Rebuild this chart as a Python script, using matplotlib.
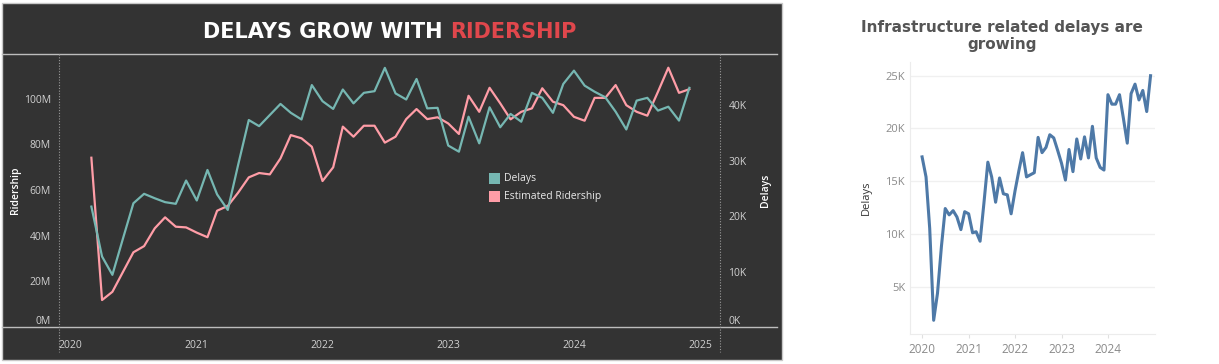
import matplotlib
matplotlib.use("Agg")
import matplotlib.pyplot as plt
import matplotlib.ticker as mticker
import matplotlib.dates as mdates
from matplotlib.lines import Line2D
from matplotlib.patches import Rectangle
import pandas as pd

# monthly totals, Mar 2020 - Dec 2024 (left panel)
delays_k = [21.7, 12.7, 9.4, 16.0, 22.3, 24.0, 23.2, 22.5, 22.2, 26.4,
            22.8, 28.3, 23.9, 21.1, 29.2, 37.3, 36.2, 38.2, 40.2, 38.6,
            37.4, 43.6, 40.7, 39.3, 42.8, 40.3, 42.2, 42.5, 46.7, 42.1,
            41.0, 44.7, 39.4, 39.5, 32.7, 31.6, 37.9, 33.1, 39.6, 36.0,
            38.4, 37.0, 42.2, 41.3, 38.6, 43.8, 46.2, 43.5, 42.4, 41.4,
            38.8, 35.6, 40.8, 41.3, 39.0, 39.7, 37.2, 43.1]
ridership_m = [74.1, 11.8, 15.4, 24.2, 32.7, 35.4, 43.2, 48.0, 43.9, 43.6,
               41.3, 39.3, 50.9, 53.0, 58.8, 65.5, 67.4, 66.8, 73.8, 84.0,
               82.6, 78.9, 63.9, 69.9, 87.7, 83.3, 88.1, 88.1, 80.7, 83.3,
               91.0, 95.4, 91.0, 91.8, 89.1, 84.5, 101.2, 94.2, 104.7, 97.9,
               90.9, 94.2, 95.7, 104.5, 98.6, 97.1, 92.0, 90.3, 100.3, 100.3,
               105.9, 97.1, 94.2, 92.5, 103.0, 113.5, 102.5, 104.1]

# infrastructure related delays, Jan 2020 - Dec 2024 (right panel)
infra_k = [17.3, 15.4, 10.5, 1.8, 4.35, 8.8, 12.4, 11.8, 12.2, 11.6,
           10.4, 12.1, 11.9, 10.1, 10.2, 9.3, 12.9, 16.8, 15.4, 13.0,
           15.3, 13.8, 13.7, 11.9, 14.1, 16.05, 17.7, 15.4, 15.6, 15.8,
           19.15, 17.7, 18.2, 19.4, 19.1, 17.95, 16.7, 15.1, 18.0, 15.9,
           19.0, 17.1, 19.2, 17.2, 20.2, 17.2, 16.3, 16.05, 23.2, 22.3,
           22.3, 23.2, 21.0, 18.6, 23.3, 24.2, 22.7, 23.6, 21.6, 25.0]

months_left = pd.date_range("2020-03-01", periods=len(delays_k), freq="MS")
months_right = pd.date_range("2020-01-01", periods=len(infra_k), freq="MS")
year_ticks = pd.to_datetime(["2020-01-01", "2021-01-01", "2022-01-01",
                             "2023-01-01", "2024-01-01", "2025-01-01"])

TEAL = "#76b7b2"
PINK = "#ff9da7"
BLUE = "#4e79a7"
DARK = "#333333"
LIGHT = "#d0d0d0"
W, H = 1219, 364

fig = plt.figure(figsize=(W / 100, H / 100), dpi=100)
fig.patch.set_facecolor("white")

# dark dashboard panel, kept behind the axes
fig.patches.append(Rectangle((2 / W, 1 - 360 / H), 780 / W, 357 / H,
                             transform=fig.transFigure, facecolor=DARK,
                             edgecolor="#c8c8c8", lw=1, zorder=-5))
for yy in (54, 327):
    fig.lines.append(Line2D([2 / W, 777 / W], [1 - yy / H, 1 - yy / H],
                            transform=fig.transFigure, color="#bdbdbd", lw=1,
                            zorder=-4))
for xx in (59, 720):
    fig.lines.append(Line2D([xx / W, xx / W], [1 - 54 / H, 1 - 352 / H],
                            transform=fig.transFigure, color="#9a9a9a",
                            lw=0.8, ls=(0, (1, 1.5)), zorder=-4))

ax = fig.add_axes([59 / W, 1 - 327 / H, 661 / W, 273 / H])
ax.set_facecolor("none")
ax.plot(months_left, ridership_m, color=PINK, lw=1.6)
ax.set_ylim(0, 119.5)
ax.set_xlim(pd.Timestamp("2019-11-28"), pd.Timestamp("2025-02-28"))
ax.set_yticks([0, 20, 40, 60, 80, 100])
ax.yaxis.set_major_formatter(mticker.FuncFormatter(lambda v, p: f"{v:.0f}M"))
ax.set_xticks(year_ticks)
ax.xaxis.set_major_formatter(mdates.DateFormatter("%Y"))
ax.tick_params(length=0, colors=LIGHT, labelsize=7.5, pad=6)
ax.tick_params(axis="x", pad=9)
for lab in ax.get_xticklabels() + ax.get_yticklabels():
    lab.set_fontfamily("Open Sans")
for s in ax.spines.values():
    s.set_visible(False)

ax2 = ax.twinx()
ax2.plot(months_left, delays_k, color=TEAL, lw=1.6)
ax2.set_ylim(0, 49.2)
ax2.set_yticks([0, 10, 20, 30, 40])
ax2.yaxis.set_major_formatter(mticker.FuncFormatter(lambda v, p: f"{v:.0f}K"))
ax2.tick_params(length=0, colors=LIGHT, labelsize=7.5, pad=6)
for lab in ax2.get_yticklabels():
    lab.set_fontfamily("Open Sans")
for s in ax2.spines.values():
    s.set_visible(False)
ax.get_yticklabels()[0].set_va("bottom")
ax2.get_yticklabels()[0].set_va("bottom")

# axis titles placed like the dashboard's
fig.text(15 / W, 1 - 190 / H, "Ridership", color="white", fontsize=7.5,
         fontfamily="Open Sans", fontweight="semibold", rotation=90,
         ha="center", va="center")
fig.text(766 / W, 1 - 190 / H, "Delays", color="white", fontsize=7.5,
         fontfamily="Open Sans", fontweight="semibold", rotation=90,
         ha="center", va="center")

# legend
fig.patches.append(Rectangle((489 / W, 1 - 184 / H), 11 / W, 11 / H,
                             transform=fig.transFigure, facecolor=TEAL))
fig.patches.append(Rectangle((489 / W, 1 - 202 / H), 11 / W, 11 / H,
                             transform=fig.transFigure, facecolor=PINK))
fig.text(504 / W, 1 - 178.5 / H, "Delays", color="#e8e8e8", fontsize=7.5,
         fontfamily="Open Sans", va="center")
fig.text(504 / W, 1 - 196.5 / H, "Estimated Ridership", color="#e8e8e8",
         fontsize=7.5, fontfamily="Open Sans", va="center")

# two-colour title
t1 = fig.text(0, 1 - 32 / H, "DELAYS GROW WITH ", color="white", fontsize=15,
              fontweight="heavy", va="center")
t2 = fig.text(0, 1 - 32 / H, "RIDERSHIP", color="#e0474c", fontsize=15,
              fontweight="heavy", va="center")
fig.canvas.draw()
r = fig.canvas.get_renderer()
w1 = t1.get_window_extent(r).width
w2 = t2.get_window_extent(r).width
x0 = 390 - (w1 + w2) / 2
t1.set_x(x0 / W)
t2.set_x((x0 + w1) / W)

# right panel
bx = fig.add_axes([910 / W, 1 - 334 / H, 245 / W, 272 / H])
bx.plot(months_right, [v * 1000 for v in infra_k], color=BLUE, lw=2.2)
bx.set_ylim(500, 26300)
bx.set_xlim(pd.Timestamp("2019-09-28"), pd.Timestamp("2025-01-05"))
bx.set_yticks([5000, 10000, 15000, 20000, 25000])
bx.yaxis.set_major_formatter(mticker.FuncFormatter(lambda v, p: f"{v / 1000:.0f}K"))
bx.set_xticks(year_ticks[:-1])
bx.xaxis.set_major_formatter(mdates.DateFormatter("%Y"))
bx.grid(axis="y", color="#f0f0f0", lw=1)
bx.set_axisbelow(True)
bx.tick_params(axis="y", length=0, colors="#8a8a8a", labelsize=8)
bx.tick_params(axis="x", length=3, color="#e0e0e0", colors="#8a8a8a", labelsize=8.5)
for lab in bx.get_xticklabels() + bx.get_yticklabels():
    lab.set_fontfamily("Open Sans")
bx.set_ylabel("Delays", color="#333333", fontsize=8, fontfamily="Open Sans",
              labelpad=10)
for k in ("top", "right"):
    bx.spines[k].set_visible(False)
for k in ("left", "bottom"):
    bx.spines[k].set_color("#ececec")

fig.text(1002 / W, 1 - 36 / H, "Infrastructure related delays are\ngrowing",
         ha="center", va="center", color="#555555", fontsize=11,
         fontweight="heavy", linespacing=1.1)

fig.savefig("out.png", dpi=100)
